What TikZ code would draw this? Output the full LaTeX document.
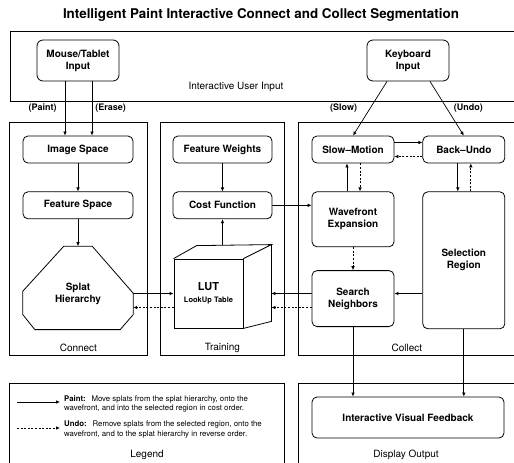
\documentclass[tikz,border=0pt]{standalone}
\usepackage{fontspec}
\setmainfont{TeX Gyre Heros}
\usetikzlibrary{arrows.meta, positioning, calc}

\begin{document}
\begin{tikzpicture}[
    x=1pt, y=-1pt,
    node distance=28pt,
    panel/.style={
        rectangle,
        draw,
        line width=0.8pt,
        anchor=north west,
    },
    paneltitle/.style={font=\fontsize{10}{12}\selectfont},
    inbox/.style={
        rectangle,
        rounded corners=6pt,
        draw,
        line width=0.8pt,
        minimum width=82pt,
        minimum height=41pt,
        align=center,
        font=\bfseries\fontsize{10}{12}\selectfont,
    },
    stage/.style={
        rectangle,
        rounded corners=5pt,
        draw,
        line width=0.8pt,
        minimum width=110pt,
        minimum height=27pt,
        align=center,
        font=\bfseries\fontsize{10}{12}\selectfont,
    },
    stage2/.style={stage, minimum width=82pt},
    boxline/.style={line width=0.8pt, line join=miter},
    arr/.style={-{Latex[length=4pt,width=3.6pt]}, line width=0.7pt},
    darr/.style={arr, dash pattern=on 2pt off 1.6pt},
    lbl/.style={font=\bfseries\fontsize{9}{11}\selectfont, inner sep=2pt},
    legtext/.style={align=left, inner sep=2pt, font=\fontsize{7.8}{9.6}\selectfont},
]
\useasboundingbox (0,0) rectangle (514,463);
\clip (0,0) rectangle (514,463);

\node[font=\bfseries\fontsize{13.4}{16}\selectfont] (title) at (261,15)
    {Intelligent Paint Interactive Connect and Collect Segmentation};

\node[panel, minimum width=505pt, minimum height=70pt] (userin) at (10,31) {};
\node[panel, minimum width=138pt, minimum height=233pt] (conn) at (9,122) {};
\node[panel, minimum width=124pt, minimum height=233pt] (train) at (160,122) {};
\node[panel, minimum width=217pt, minimum height=233pt] (coll) at (298,122) {};
\node[panel, minimum width=275pt, minimum height=83pt] (legend) at (9,383) {};
\node[panel, minimum width=217pt, minimum height=83pt] (disp) at (298,383) {};

\node[paneltitle] (uilbl) at (236,87) {Interactive User Input};
\node[paneltitle] (connlbl) at ($(conn.south)+(0,-8)$) {Connect};
\node[paneltitle] (trainlbl) at ($(train.south)+(0,-8)$) {Training};
\node[paneltitle] (colllbl) at ($(coll.south)+(0,-8)$) {Collect};
\node[paneltitle] (leglbl) at (147,455) {Legend};
\node[paneltitle] (displbl) at (406,455) {Display Output};

\node[inbox] (mouse) at (78,60.5) {Mouse/Tablet\\Input};
\node[inbox] (keyb) at (408,60.5) {Keyboard\\Input};

\node[stage] (imgsp) at (78,149.5) {Image Space};
\node[stage, below=of imgsp] (featsp) {Feature Space};
\node[minimum width=110pt, minimum height=83pt, inner sep=0pt, below=27pt of featsp] (splat) {};
\draw[boxline] ($(splat.north west)+(41,0)$) -- ($(splat.north east)+(-41,0)$)
    -- ($(splat.north east)+(0,47)$) -- ($(splat.south east)+(0,-15)$)
    -- ($(splat.south east)+(-13,0)$) -- ($(splat.south west)+(12,0)$)
    -- ($(splat.south west)+(0,-15)$) -- ($(splat.north west)+(0,45)$) -- cycle;
\node[stage, draw=none] (splatlbl) at ($(splat.center)+(0,6)$) {Splat\\Hierarchy};

\node[stage, minimum width=99pt] (weights) at (222.5,149.5) {Feature Weights};
\node[stage, minimum width=99pt, below=of weights] (cost) {Cost Function};
\node[rectangle, draw, line width=0.8pt, minimum width=69pt, minimum height=69pt,
    align=center, font=\bfseries] (lut) at (208.5,293.5)
    {{\fontsize{11}{13}\selectfont LUT}\\{\fontsize{7.5}{9}\selectfont LookUp Table}};
\coordinate (lutbl) at ($(lut.north west)+(23,-13)$);
\coordinate (lutbr) at ($(lut.north east)+(28,-14)$);
\draw[boxline] (lut.north west) -- (lutbl) -- (lutbr) -- (lut.north east);
\draw[boxline] (lutbr) -- ($(lut.south east)+(28,-7)$) -- (lut.south east);
\coordinate (lo) at ($(lut.center)+(0,14)$);

\node[stage2] (slow) at (353,149.5) {Slow--Motion};
\node[stage2, right=of slow] (undo) {Back--Undo};
\node[stage2, minimum height=55pt, below=of slow] (wave) {Wavefront\\Expansion};
\node[stage2, minimum height=56pt, below=23pt of wave] (search) {Search\\Neighbors};
\node[stage2, minimum height=137pt, below=of undo] (sel) {Selection\\Region};

\node[stage, minimum width=192pt, minimum height=41pt] (ivf) at (408,417.5)
    {Interactive Visual Feedback};

\node[legtext, anchor=north west] (lgpaint) at (62,393)
    {\textbf{Paint:}\hspace{3pt} Move splats from the splat hierarchy, onto the\\wavefront, and into the selected region in cost order.};
\node[legtext, anchor=north west] (lgundo) at (62,419)
    {\textbf{Undo:}\hspace{3pt} Remove splats from the selected region, onto the\\wavefront, and to the splat hierarchy in reverse order.};
\coordinate (lgsolid) at (17,402);
\coordinate (lgdash) at (17,428);
\draw[arr] (lgsolid) -- ($(lgpaint.west |- lgsolid)+(-2,0)$);
\draw[darr] (lgdash) -- ($(lgundo.west |- lgdash)+(-2,0)$);

\draw[arr] ([xshift=-13pt]mouse.south) -- node[lbl, left=6pt, pos=0.49] {(Paint)} ([xshift=-13pt]imgsp.north);
\draw[arr] ([xshift=14pt]mouse.south) -- node[lbl, right=1pt, pos=0.49] {(Erase)} ([xshift=14pt]imgsp.north);
\draw[arr] ([xshift=-21pt]keyb.south) -- node[lbl, left=11pt, pos=0.49] {(Slow)} (slow.north);
\draw[arr] ([xshift=22pt]keyb.south) -- node[lbl, right=5pt, pos=0.49] {(Undo)} (undo.north);

\draw[arr] (imgsp) -- (featsp);
\draw[arr] (featsp) -- (splat.north);
\draw[arr] (weights) -- (cost);
\draw[arr] (cost.south |- lutbr) -- (cost.south);
\draw[arr] (cost.east) -- (cost.east -| wave.west);

\draw[arr] ([yshift=7pt]slow.east) -- ([yshift=7pt]undo.west);
\draw[darr] ([yshift=-7pt]undo.west) -- ([yshift=-7pt]slow.east);
\draw[arr] ([xshift=-6pt]wave.north) -- ([xshift=-6pt]slow.south);
\draw[darr] ([xshift=7pt]slow.south) -- ([xshift=7pt]wave.north);
\draw[arr] ([xshift=-6pt]undo.south) -- ([xshift=-6pt]sel.north);
\draw[darr] ([xshift=7pt]sel.north) -- ([xshift=7pt]undo.south);
\draw[darr] (wave.south) -- (search.north);

\draw[arr] (sel.west |- lut.center) -- (search.east |- lut.center);
\draw[arr] (search.west |- lut.center) -- (lutbr |- lut.center);
\draw[darr] (search.west |- lo) -- (lutbr |- lo);
\draw[arr] (splat.east |- lut.center) -- (lut.west);
\draw[darr] (lut.west |- lo) -- (splat.east |- lo);

\draw[arr] (search.south) -- (search.south |- ivf.north);
\draw[arr] (sel.south) -- (sel.south |- ivf.north);

\end{tikzpicture}
\end{document}
